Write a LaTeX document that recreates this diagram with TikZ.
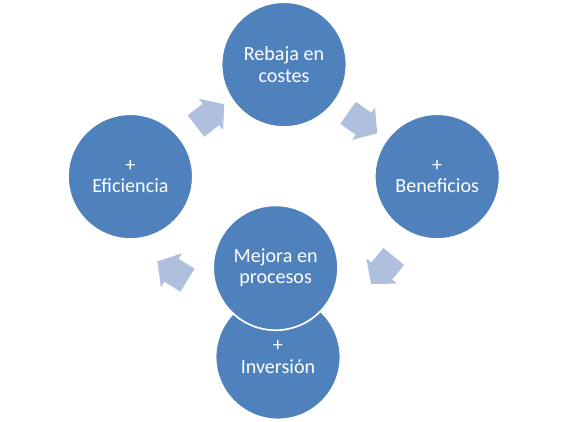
\documentclass[tikz,border=0pt]{standalone}
\usepackage{fontspec}
\setmainfont{Carlito}
\usepackage{xcolor}
\definecolor{cycblue}{RGB}{79,129,189}
\definecolor{cycarrow}{RGB}{175,192,222}
\usetikzlibrary{shapes.arrows}

\begin{document}
\begin{tikzpicture}[
  every node/.style={font=\fontsize{14.3}{15.5}\selectfont},
  stagecircle/.style={circle,fill=cycblue,draw=white,line width=1.2pt,
                      minimum size=3.12cm,inner sep=0pt,align=center,text=white},
  cyclearrow/.style={single arrow,fill=cycarrow,draw=none,minimum height=0.89cm,
                     inner xsep=0pt,inner ysep=0.33cm,
                     single arrow head extend=0.16cm,single arrow tip angle=100},
]
  \useasboundingbox (0,0) rectangle (14.175,10.525);

  % Cycle stages
  \node[stagecircle] (rb) at (7.10,8.91) {Rebaja en\\costes};
  \node[stagecircle] (ben) at (10.93,6.11) {+\\Beneficios};
  \node[stagecircle] (efi) at (3.26,6.11) {+\\Eficiencia};
  \node[stagecircle] (inv) at (6.95,1.60) {+\\Inversión};
  \node[stagecircle] (mej) at (6.89,3.83) {Mejora en\\procesos};

  % Block arrows between the stages
  \node[cyclearrow,rotate=37.7] (a1) at (5.14,7.56) {};
  \node[cyclearrow,rotate=-35.1] (a2) at (8.95,7.53) {};
  \node[cyclearrow,rotate=-129.5] (a3) at (9.65,3.88) {};
  \node[cyclearrow,rotate=148] (a4) at (4.43,3.68) {};
\end{tikzpicture}
\end{document}
